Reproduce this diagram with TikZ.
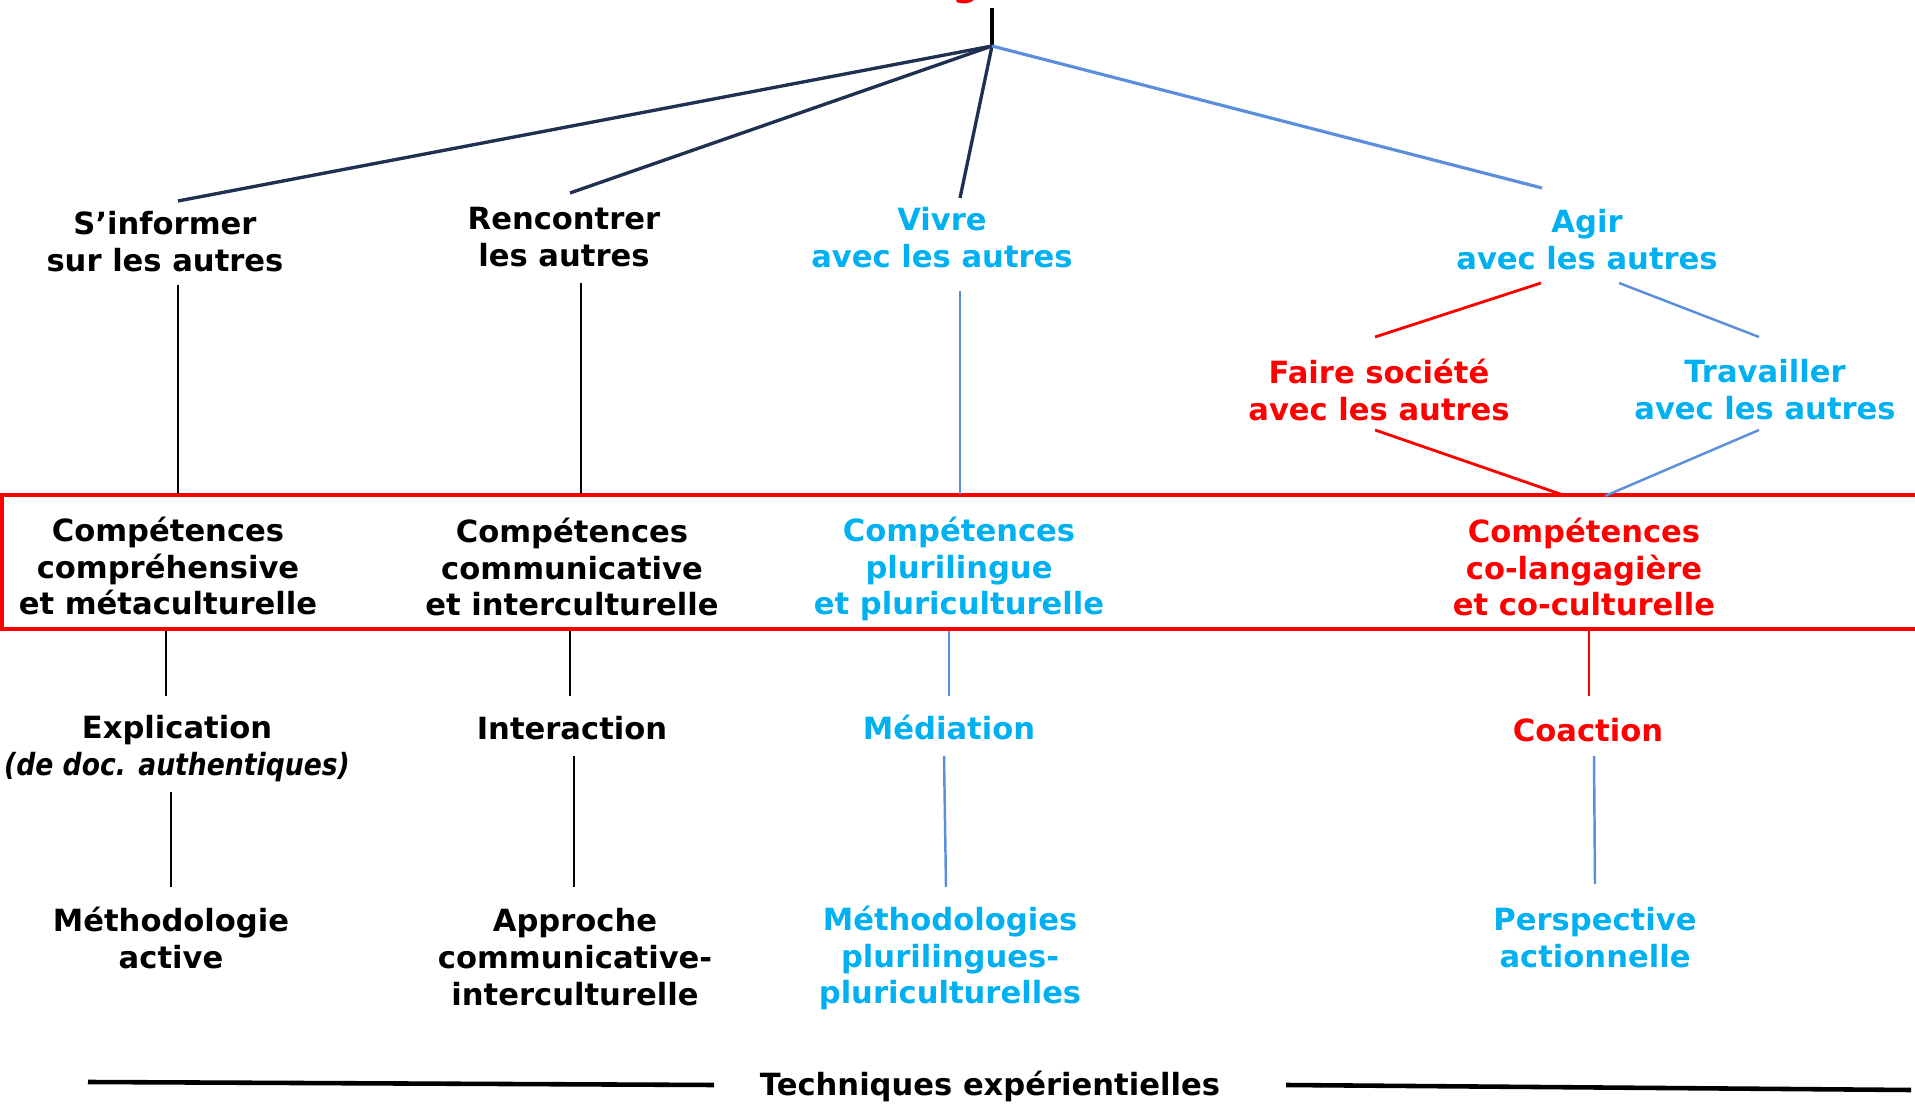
\documentclass[tikz,border=0pt]{standalone}
\usepackage{fontspec}
\setmainfont{DejaVu Sans}
\definecolor{navyL}{HTML}{1F3050}
\definecolor{blueL}{HTML}{5B8FDB}
\definecolor{cyanT}{HTML}{00B0F0}
\definecolor{redT}{HTML}{FF0000}
\begin{document}
\begin{tikzpicture}[x=0.01cm,y=-0.01cm,
  lbl/.style={align=center, inner sep=0pt, font=\bfseries\fontsize{8.7}{10.5}\selectfont},
  dk/.style={lbl, text=black},
  cy/.style={lbl, text=cyanT},
  rd/.style={lbl, text=redT},
  navyline/.style={draw=navyL, line width=0.95pt},
  blueline/.style={draw=blueL, line width=0.7pt},
  blackline/.style={draw=black, line width=0.8pt},
  redline/.style={draw=redT, line width=0.8pt},
  baseline rule/.style={draw=black, line width=1.3pt}]
\useasboundingbox (0,0) rectangle (1915,1104);

% title descender cut by the top edge
\node[anchor=base, inner sep=0pt, text=redT, font=\bfseries\fontsize{11}{13}\selectfont] (title) at (966,-4) {g};

% junction of the tree
\coordinate (top) at (992,8);
\coordinate (root) at (992,46);
\draw[draw=black, line width=1.1pt] (top) -- (root);

% first level
\node[dk] (inf) at (165,242) {S’informer\\sur les autres};
\node[dk] (ren) at (564,237) {Rencontrer\\les autres};
\node[cy] (viv) at (942,238) {Vivre\\avec les autres};
\node[cy] (agi) at (1587,240) {Agir\\avec les autres};

\coordinate (inf-in) at (178,201);
\coordinate (ren-in) at (570,193);
\coordinate (viv-in) at (960,198);
\coordinate (agi-in) at (1542,188);
\draw[navyline] (root) -- (inf-in);
\draw[navyline] (root) -- (ren-in);
\draw[navyline] (root) -- (viv-in);
\draw[blueline, line width=0.9pt] (root) -- (agi-in);

% second level under "Agir"
\node[rd] (fai) at (1379,390) {Faire société\\avec les autres};
\node[cy] (tra) at (1765,390) {Travailler\\avec les autres};
\coordinate (agi-l) at (1541,283);
\coordinate (agi-r) at (1619,283);
\coordinate (fai-in) at (1375,337);
\coordinate (tra-in) at (1759,337);
\draw[redline] (agi-l) -- (fai-in);
\draw[blueline] (agi-r) -- (tra-in);

% band of competences
\draw[draw=redT, line width=1.15pt] (2,495) rectangle (1930,629);
\node[dk] (c1) at (168,566) {Compétences\\compréhensive\\et métaculturelle};
\node[dk] (c2) at (572,567) {Compétences\\communicative\\et interculturelle};
\node[cy] (c3) at (959,569) {Compétences\\plurilingue\\et pluriculturelle};
\node[rd] (c4) at (1584,567) {Compétences\\co-langagière\\et co-culturelle};

\coordinate (inf-out) at (178,285);
\coordinate (ren-out) at (581,283);
\coordinate (viv-out) at (960,291);
\coordinate (fai-out) at (1375,430);
\coordinate (tra-out) at (1759,430);
\coordinate (c1-in) at (178,494);
\coordinate (c2-in) at (581,494);
\coordinate (c3-in) at (960,494);
\coordinate (c4-inl) at (1566,496);
\coordinate (c4-inr) at (1605,496);
\draw[blackline] (inf-out) -- (c1-in);
\draw[blackline] (ren-out) -- (c2-in);
\draw[blueline] (viv-out) -- (c3-in);
\draw[redline] (fai-out) -- (c4-inl);
\draw[blueline] (tra-out) -- (c4-inr);

% activities
\node[dk] (exp) at (177,749) {Explication\\\scalebox{0.87}[1]{\itshape (de doc. authentiques)}};
\node[dk] (int) at (572,728) {Interaction};
\node[cy] (med) at (949,727) {Médiation};
\node[rd] (coa) at (1588,730) {Coaction};

\coordinate (c1-out) at (166,631);
\coordinate (c2-out) at (570,631);
\coordinate (c3-out) at (949,631);
\coordinate (c4-out) at (1589,631);
\coordinate (exp-in) at (166,696);
\coordinate (int-in) at (570,696);
\coordinate (med-in) at (949,696);
\coordinate (coa-in) at (1589,696);
\draw[blackline] (c1-out) -- (exp-in);
\draw[blackline] (c2-out) -- (int-in);
\draw[blueline] (c3-out) -- (med-in);
\draw[redline] (c4-out) -- (coa-in);

% methodologies
\node[dk] (met) at (171,938) {Méthodologie\\active};
\node[dk] (app) at (575,957) {Approche\\communicative-\\interculturelle};
\node[cy] (mps) at (950,958) {Méthodologies\\plurilingues-\\pluriculturelles};
\node[cy] (per) at (1595,938) {Perspective\\actionnelle};

\coordinate (exp-out) at (171,792);
\coordinate (int-out) at (574,756);
\coordinate (med-out) at (944,756);
\coordinate (coa-out) at (1594,756);
\coordinate (met-in) at (171,887);
\coordinate (app-in) at (574,887);
\coordinate (mps-in) at (946,887);
\coordinate (per-in) at (1595,884);
\draw[blackline] (exp-out) -- (met-in);
\draw[blackline] (int-out) -- (app-in);
\draw[blueline] (med-out) -- (mps-in);
\draw[blueline] (coa-out) -- (per-in);

% common base
\node[dk] (tech) at (990,1086) {Techniques expérientielles};
\coordinate (tl-a) at (88,1082);
\coordinate (tl-b) at (714,1085);
\coordinate (tr-a) at (1286,1085);
\coordinate (tr-b) at (1911,1090);
\draw[baseline rule] (tl-a) -- (tl-b);
\draw[baseline rule] (tr-a) -- (tr-b);
\end{tikzpicture}
\end{document}
